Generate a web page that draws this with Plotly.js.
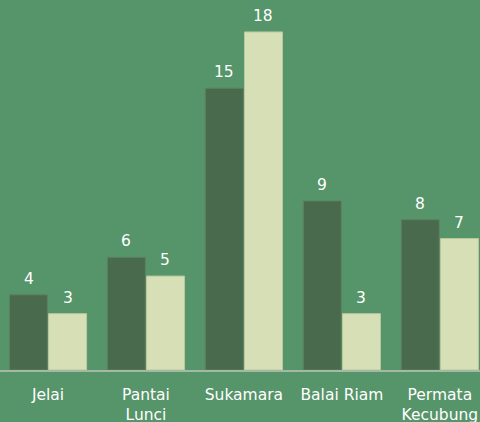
<!DOCTYPE html>
<html>
<head>
<meta charset="utf-8">
<script src="https://cdn.plot.ly/plotly-3.0.1.min.js"></script>
<style>
  html, body { margin: 0; padding: 0; background: #569469; }
</style>
</head>
<body>
<div id="chart" style="width:480px;height:422px;"></div>
<script>
// categories (kecamatan) and the two series
const categories = ['Jelai', 'Pantai<br>Lunci', 'Sukamara', 'Balai Riam', 'Permata<br>Kecubung'];
const seriesA = [4, 6, 15, 9, 8];
const seriesB = [3, 5, 18, 3, 7];

const bgColor = '#569469';
const fontFamily = '"DejaVu Sans", "Open Sans", sans-serif';

const data = [
  {
    x: categories,
    y: seriesA,
    type: 'bar',
    marker: { color: '#4a6a4d', line: { color: '#5d8260', width: 1 } },
    hoverinfo: 'none'
  },
  {
    x: categories,
    y: seriesB,
    type: 'bar',
    marker: { color: '#d7dfb6', line: { color: '#b9c99e', width: 1 } },
    hoverinfo: 'none'
  }
];

// value labels above each bar
const annotations = [];
categories.forEach((cat, i) => {
  annotations.push({ x: cat, y: seriesA[i], text: String(seriesA[i]), xshift: -19.5, yshift: 5 });
  annotations.push({ x: cat, y: seriesB[i], text: String(seriesB[i]), xshift: 19.5, yshift: 5 });
});
annotations.forEach(a => {
  a.xref = 'x';
  a.yref = 'y';
  a.yanchor = 'bottom';
  a.showarrow = false;
  a.font = { family: fontFamily, color: '#ffffff', size: 15.5 };
});

const layout = {
  width: 480,
  height: 422,
  margin: { l: 0, r: 0, t: 0, b: 52 },
  paper_bgcolor: bgColor,
  plot_bgcolor: bgColor,
  showlegend: false,
  barmode: 'group',
  bargap: 0.2,
  bargroupgap: 0.03,
  font: { family: fontFamily, color: '#ffffff', size: 15.5 },
  annotations: annotations,
  xaxis: {
    range: [-0.49, 4.41],
    showline: true,
    linecolor: '#a3b9a3',
    linewidth: 2,
    ticks: '',
    ticklabelstandoff: 9,
    tickfont: { family: fontFamily, color: '#ffffff', size: 15.5 },
    fixedrange: true
  },
  yaxis: {
    range: [0, 19.7],
    visible: false,
    showgrid: false,
    zeroline: false,
    fixedrange: true
  }
};

Plotly.newPlot('chart', data, layout, { displayModeBar: false, staticPlot: true });
</script>
</body>
</html>
